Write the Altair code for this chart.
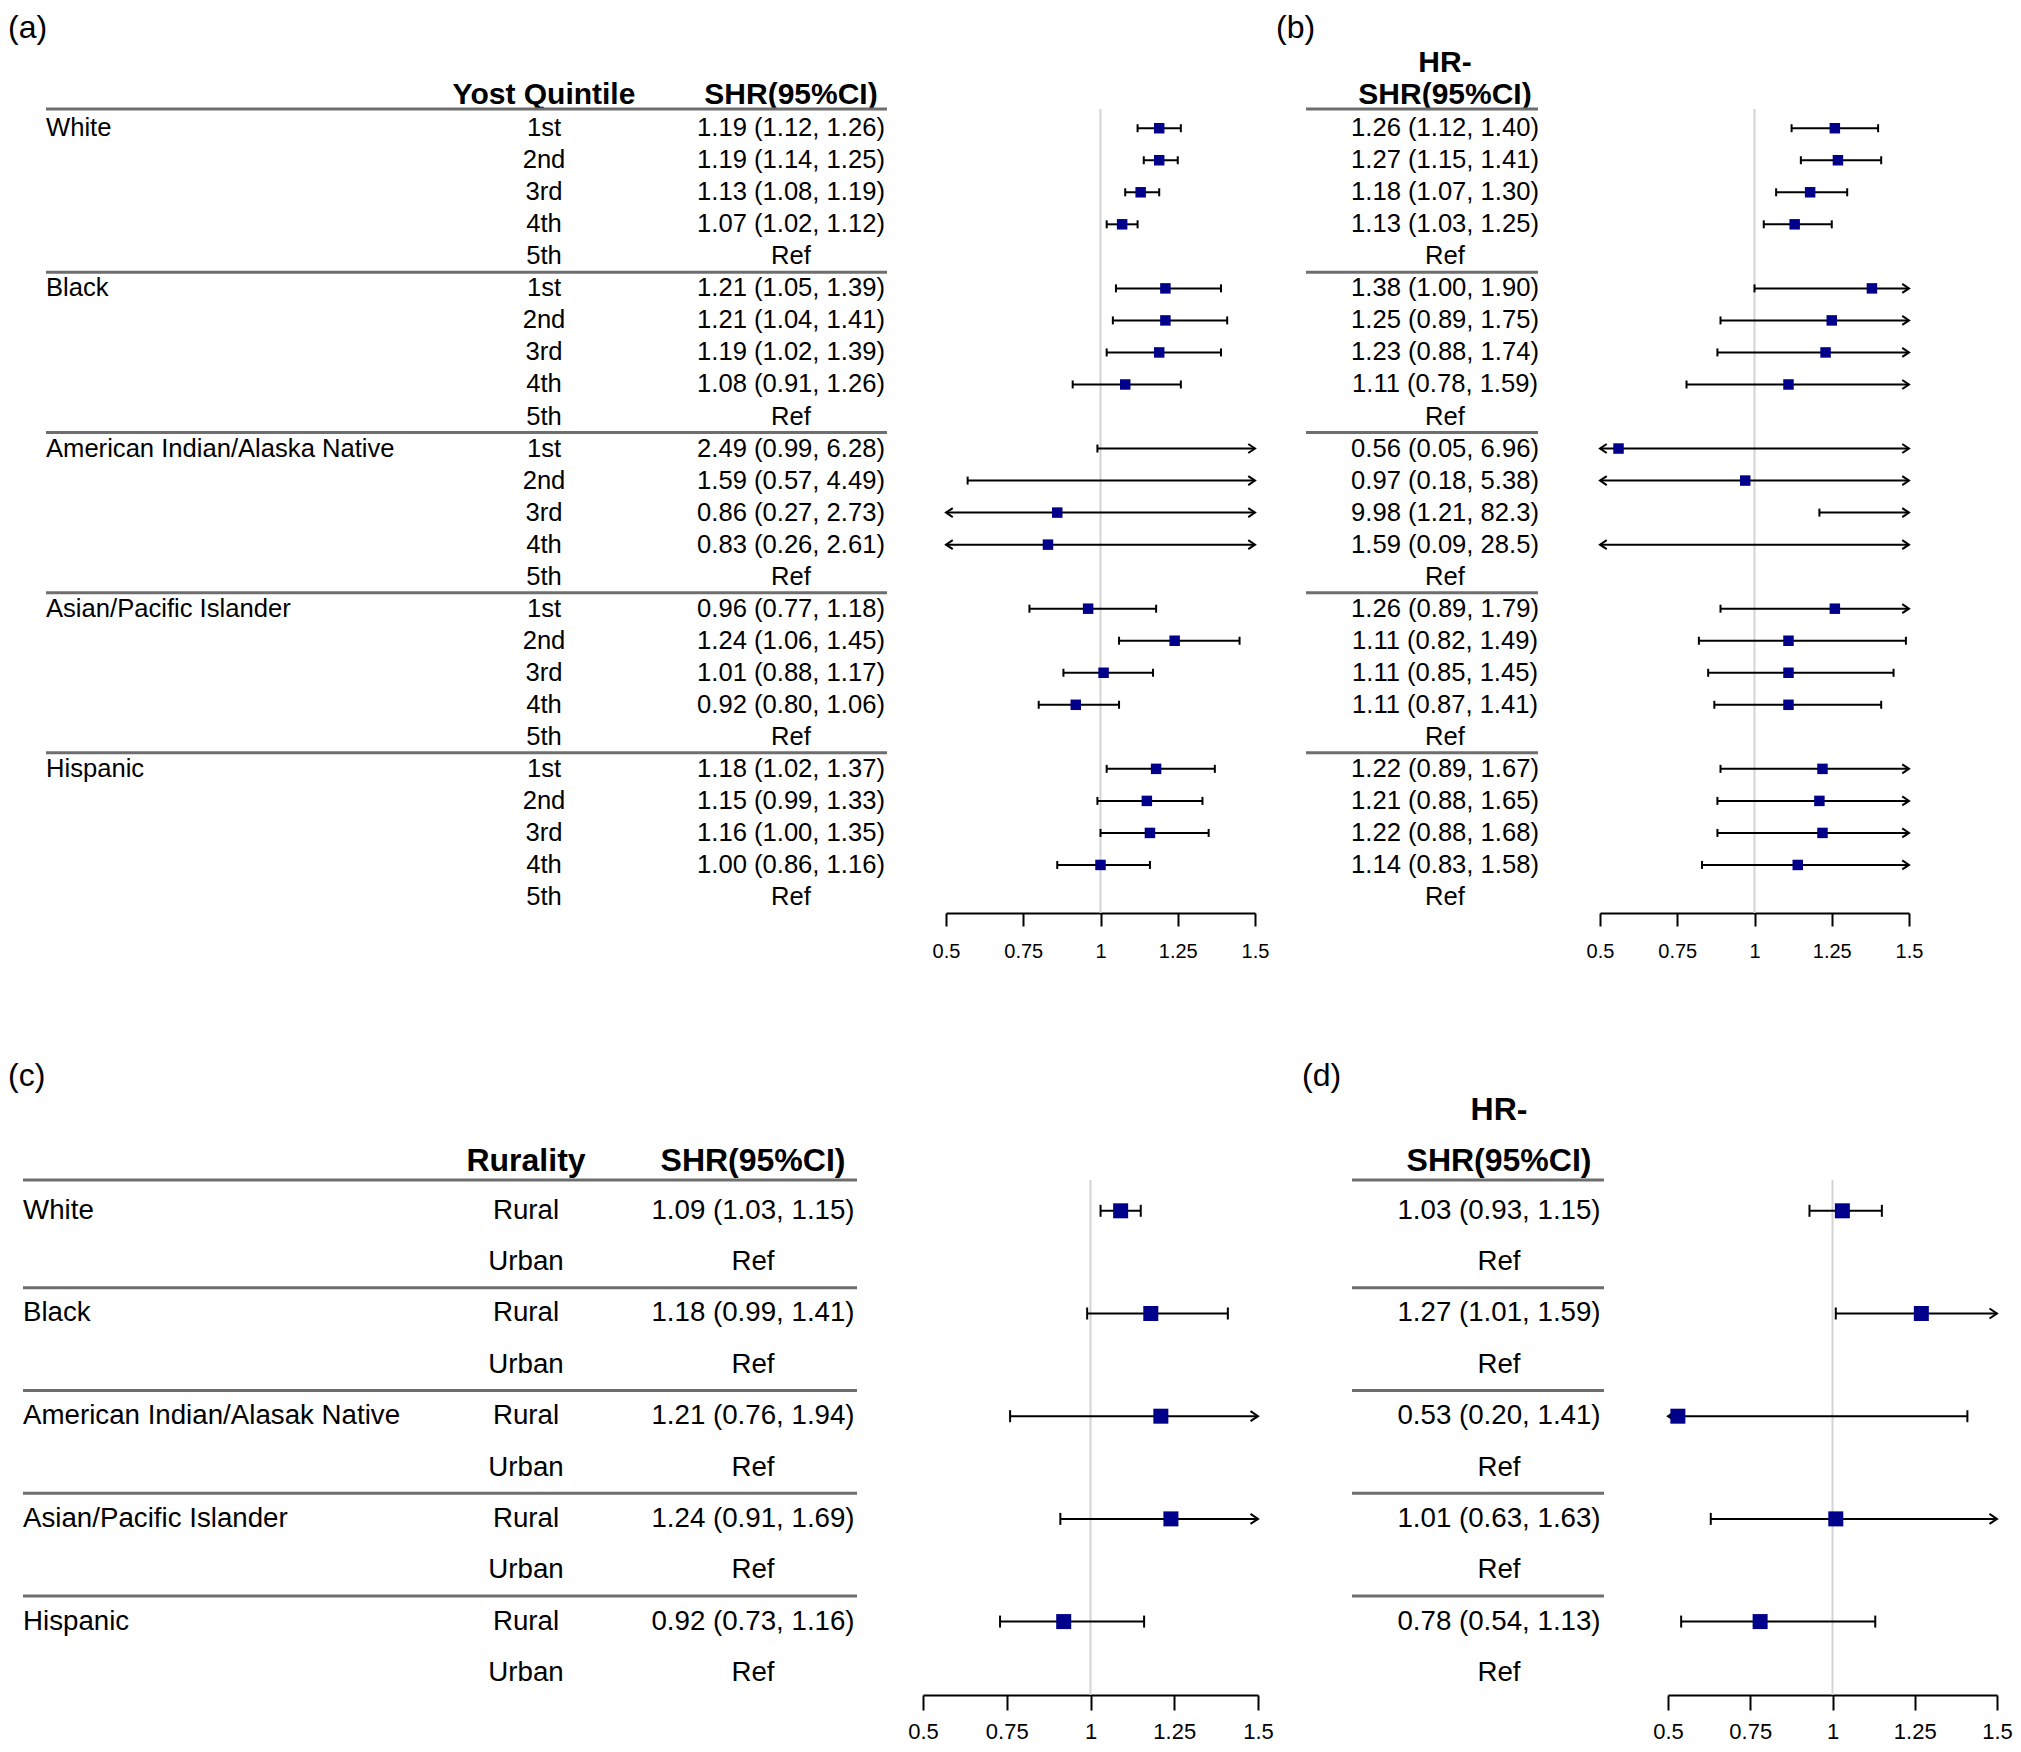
import altair as alt
import pandas as pd

FONT = "Liberation Sans"

# ---------------- data ----------------
RACE_Q = ["White", "Black", "American Indian/Alaska Native", "Asian/Pacific Islander", "Hispanic"]
QUINTILES = ["1st", "2nd", "3rd", "4th", "5th"]

# panel (a): quintiles 1st-4th per group (5th = Ref)
A_EST = [1.19, 1.19, 1.13, 1.07, 1.21, 1.21, 1.19, 1.08, 2.49, 1.59, 0.86, 0.83, 0.96, 1.24, 1.01, 0.92, 1.18, 1.15, 1.16, 1.00]
A_LO = [1.12, 1.14, 1.08, 1.02, 1.05, 1.04, 1.02, 0.91, 0.99, 0.57, 0.27, 0.26, 0.77, 1.06, 0.88, 0.80, 1.02, 0.99, 1.00, 0.86]
A_HI = [1.26, 1.25, 1.19, 1.12, 1.39, 1.41, 1.39, 1.26, 6.28, 4.49, 2.73, 2.61, 1.18, 1.45, 1.17, 1.06, 1.37, 1.33, 1.35, 1.16]

# panel (b)
B_EST = [1.26, 1.27, 1.18, 1.13, 1.38, 1.25, 1.23, 1.11, 0.56, 0.97, 9.98, 1.59, 1.26, 1.11, 1.11, 1.11, 1.22, 1.21, 1.22, 1.14]
B_LO = [1.12, 1.15, 1.07, 1.03, 1.00, 0.89, 0.88, 0.78, 0.05, 0.18, 1.21, 0.09, 0.89, 0.82, 0.85, 0.87, 0.89, 0.88, 0.88, 0.83]
B_HI = [1.40, 1.41, 1.30, 1.25, 1.90, 1.75, 1.74, 1.59, 6.96, 5.38, 82.3, 28.5, 1.79, 1.49, 1.45, 1.41, 1.67, 1.65, 1.68, 1.58]

RACE_R = ["White", "Black", "American Indian/Alasak Native", "Asian/Pacific Islander", "Hispanic"]
RURALITY = ["Rural", "Urban"]

# panel (c): Rural vs Urban (Ref)
C_EST = [1.09, 1.18, 1.21, 1.24, 0.92]
C_LO = [1.03, 0.99, 0.76, 0.91, 0.73]
C_HI = [1.15, 1.41, 1.94, 1.69, 1.16]

# panel (d)
D_EST = [1.03, 1.27, 0.53, 1.01, 0.78]
D_LO = [0.93, 1.01, 0.20, 0.63, 0.54]
D_HI = [1.15, 1.59, 1.41, 1.63, 1.13]

AXIS_TICKS = [0.5, 0.75, 1, 1.25, 1.5]
XMIN, XMAX = 0.5, 1.5
REF_VALUE = 1.0

PANEL_LABELS = ["(a)", "(b)", "(c)", "(d)"]
HEAD_SHR = "SHR(95%CI)"
HEAD_HR = "HR-"


def fmt(v):
    return f"{v:.1f}" if v >= 10 else f"{v:.2f}"


def make_rows(groups, levels, est, lo, hi):
    rows = []
    k = 0
    nl = len(levels)
    for gi, g in enumerate(groups):
        for li, lev in enumerate(levels):
            r = gi * nl + li
            if li < nl - 1:
                e, l, h = est[k], lo[k], hi[k]
                k += 1
                lab = f"{fmt(e)} ({fmt(l)}, {fmt(h)})"
            else:
                e = l = h = None
                lab = "Ref"
            rows.append({"row": r, "group": g if li == 0 else "", "level": lev,
                         "label": lab, "est": e, "lo": l, "hi": h})
    return pd.DataFrame(rows)


def separators(groups, levels):
    nl = len(levels)
    return pd.DataFrame({"pos": [(gi + 1) * nl - 0.5 for gi in range(len(groups) - 1)]})


def forest_layer(df, ydom, xrange, sq, cap, arrow, fsize, tsize, lpad):
    d = df.dropna(subset=["est"]).copy()
    d["lo_c"] = d["lo"].clip(lower=XMIN, upper=XMAX)
    d["hi_c"] = d["hi"].clip(lower=XMIN, upper=XMAX)
    caps = pd.concat([
        d.loc[d["lo"] >= XMIN, ["row", "lo"]].rename(columns={"lo": "x"}),
        d.loc[d["hi"] <= XMAX, ["row", "hi"]].rename(columns={"hi": "x"}),
    ])
    arr_r = d.loc[d["hi"] > XMAX, ["row", "hi_c"]]
    arr_l = d.loc[d["lo"] < XMIN, ["row", "lo_c"]]
    pts = d.loc[(d["est"] >= XMIN) & (d["est"] <= XMAX), ["row", "est"]]

    xs = alt.Scale(domain=[XMIN, XMAX], range=xrange, nice=False, zero=False)
    ys = alt.Scale(domain=ydom, reverse=True, nice=False, zero=False)
    ax = alt.Axis(values=AXIS_TICKS, format=".2~f", title=None, grid=False, orient="bottom",
                  domainColor="black", domainWidth=2, tickColor="black", tickWidth=2,
                  tickSize=tsize, labelFontSize=fsize, labelColor="black", labelFont=FONT,
                  labelPadding=lpad, labelFlush=False, labelOverlap=False, labelBaseline="top")

    def X(f):
        return alt.X(f, scale=xs, axis=ax)

    def Y():
        return alt.Y("row:Q", scale=ys, axis=None)

    ref = alt.Chart(pd.DataFrame({"ref": [REF_VALUE]})).mark_rule(
        color="#d4d4d4", strokeWidth=2).encode(x=X("ref:Q"))
    ci = alt.Chart(d).mark_rule(color="black", strokeWidth=2).encode(
        x=X("lo_c:Q"), x2="hi_c:Q", y=Y())
    cp = alt.Chart(caps).mark_tick(orient="vertical", size=cap, thickness=2,
                                   color="black", opacity=1).encode(x=X("x:Q"), y=Y())
    ar = alt.Chart(arr_r).mark_point(shape="M -1.5 -1 L 0 0 L -1.5 1", filled=False,
                                     stroke="black", strokeWidth=2, size=arrow,
                                     opacity=1).encode(x=X("hi_c:Q"), y=Y())
    al = alt.Chart(arr_l).mark_point(shape="M 1.5 -1 L 0 0 L 1.5 1", filled=False,
                                     stroke="black", strokeWidth=2, size=arrow,
                                     opacity=1).encode(x=X("lo_c:Q"), y=Y())
    sqm = alt.Chart(pts).mark_square(size=sq, color="#00008B", opacity=1).encode(
        x=X("est:Q"), y=Y())
    return alt.layer(ref, ci, cp, ar, al, sqm)


def table_layers(df, seps, ydom, fs, hfs, cols, heads, line_x, panel):
    ys = alt.Scale(domain=ydom, reverse=True, nice=False, zero=False)

    def Y(f="row:Q"):
        return alt.Y(f, scale=ys, axis=None)

    layers = []
    for field, xpos, align in cols:
        layers.append(alt.Chart(df).mark_text(
            align=align, baseline="middle", font=FONT, fontSize=fs, color="black"
        ).encode(x=alt.value(xpos), y=Y(), text=f"{field}:N"))
    for txt, xpos, ypos in heads:
        layers.append(alt.Chart(pd.DataFrame({"t": [txt]})).mark_text(
            align="center", baseline="alphabetic", font=FONT, fontSize=hfs,
            fontWeight="bold", color="black"
        ).encode(x=alt.value(xpos), y=alt.value(ypos), text="t:N"))
    layers.append(alt.Chart(pd.DataFrame({"t": [0]})).mark_rule(
        color="#6e6e6e", strokeWidth=3).encode(
        x=alt.value(line_x[0]), x2=alt.value(line_x[1]), y=alt.value(0)))
    layers.append(alt.Chart(seps).mark_rule(color="#6e6e6e", strokeWidth=3).encode(
        x=alt.value(line_x[0]), x2=alt.value(line_x[1]), y=Y("pos:Q")))
    ptxt, px, py = panel
    layers.append(alt.Chart(pd.DataFrame({"t": [ptxt]})).mark_text(
        align="left", baseline="middle", font=FONT, fontSize=32, color="black"
    ).encode(x=alt.value(px), y=alt.value(py), text="t:N"))
    return alt.layer(*layers)


# ---------------- top row: (a) and (b) ----------------
TOP_H = 804
TOP_DOM = [-0.6, 24.5]
df_a = make_rows(RACE_Q, QUINTILES, A_EST, A_LO, A_HI)
df_b = make_rows(RACE_Q, QUINTILES, B_EST, B_LO, B_HI)
sep_q = separators(RACE_Q, QUINTILES)

tab_a = table_layers(df_a, sep_q, TOP_DOM, 25.6, 30,
                     [("group", 23, "left"), ("level", 521, "center"), ("label", 768, "center")],
                     [("Yost Quintile", 521, -5), (HEAD_SHR, 768, -5)],
                     (23, 864), (PANEL_LABELS[0], -15, -81))
for_a = forest_layer(df_a, TOP_DOM, [923, 1232], 110, 8, 81, 20, 13, 15)
tab_b = table_layers(df_b, sep_q, TOP_DOM, 25.6, 30,
                     [("label", 1422, "center")],
                     [(HEAD_HR, 1422, -37), (HEAD_SHR, 1422, -5)],
                     (1283, 1515), (PANEL_LABELS[1], 1253, -81))
for_b = forest_layer(df_b, TOP_DOM, [1577, 1886], 110, 8, 81, 20, 13, 15)
top = alt.layer(tab_a, for_a, tab_b, for_b).resolve_scale(x="independent").properties(
    width=1886, height=TOP_H)

# ---------------- bottom row: (c) and (d) ----------------
BOT_H = 515
BOT_DOM = [-0.6, 9.43]
df_c = make_rows(RACE_R, RURALITY, C_EST, C_LO, C_HI)
df_d = make_rows(RACE_R, RURALITY, D_EST, D_LO, D_HI)
sep_r = separators(RACE_R, RURALITY)

tab_c = table_layers(df_c, sep_r, BOT_DOM, 27.7, 32,
                     [("group", 0, "left"), ("level", 503, "center"), ("label", 730, "center")],
                     [("Rurality", 503, -9), (HEAD_SHR, 730, -9)],
                     (0, 834), (PANEL_LABELS[2], -15, -104))
for_c = forest_layer(df_c, BOT_DOM, [900, 1235], 225, 12, 100, 22, 15, 11)
tab_d = table_layers(df_d, sep_r, BOT_DOM, 27.7, 32,
                     [("label", 1476, "center")],
                     [(HEAD_HR, 1476, -60), (HEAD_SHR, 1476, -9)],
                     (1329, 1581), (PANEL_LABELS[3], 1279, -104))
for_d = forest_layer(df_d, BOT_DOM, [1645, 1974], 225, 12, 100, 22, 15, 11)
bottom = alt.layer(tab_c, for_c, tab_d, for_d).resolve_scale(x="independent").properties(
    width=1974, height=BOT_H)

chart = alt.vconcat(top, bottom, spacing=267, bounds="flush").properties(
    padding={"top": 4, "left": 0, "right": 0, "bottom": 0}
).configure_view(stroke=None)

chart.save("out.html", embed_options={"renderer": "svg", "actions": False})
